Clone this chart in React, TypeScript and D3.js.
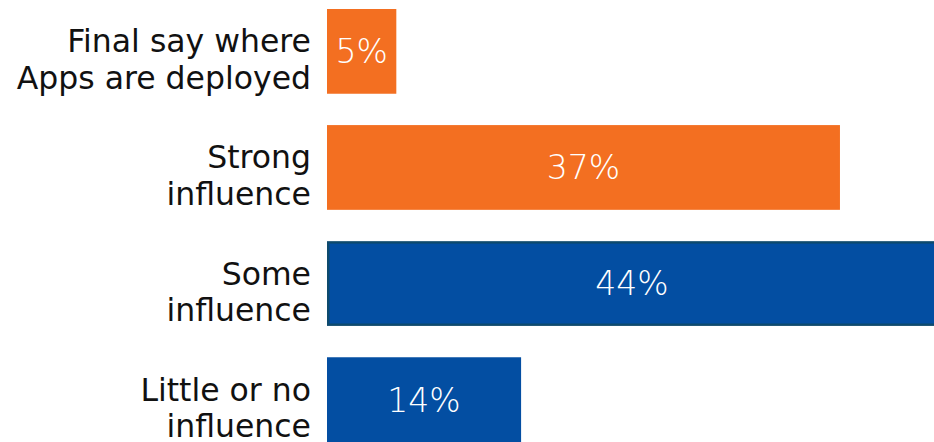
import React, { useEffect } from "react";
import * as d3 from "d3";

const categories: string[][] = [
  ["Final say where", "Apps are deployed"],
  ["Strong", "influence"],
  ["Some", "influence"],
  ["Little or no", "influence"],
];
const values: number[] = [5, 37, 44, 14];
const colors: string[] = ["#F36F21", "#F36F21", "#034EA2", "#034EA2"];
const outlined: boolean[] = [false, false, true, false];

const W = 934;
const H = 442;

export default function App() {
  useEffect(() => {
    document.body.style.margin = "0";
  }, []);

  const x = d3.scaleLinear().domain([0, 44]).range([327, 937]);
  const y = d3
    .scaleBand<number>()
    .domain(d3.range(values.length))
    .range([9, 442])
    .paddingInner(0.27)
    .paddingOuter(0);

  const bw = y.bandwidth();
  const lineGap = 36.5;

  return (
    <svg width={W} height={H} style={{ display: "block" }}>
      <rect x={0} y={0} width={W} height={H} fill="#ffffff" />
      {values.map((v, i) => {
        const y0 = y(i) as number;
        const cy = y0 + bw / 2;
        const x0 = x(0);
        const x1 = x(v);
        return (
          <g key={i}>
            <rect
              x={outlined[i] ? x0 + 1.2 : x0}
              y={outlined[i] ? y0 + 1.2 : y0}
              width={outlined[i] ? x1 - x0 - 2.4 : x1 - x0}
              height={outlined[i] ? bw - 2.4 : bw}
              fill={colors[i]}
              stroke={outlined[i] ? "#0E4A6D" : "none"}
              strokeWidth={outlined[i] ? 2.4 : 0}
            />
            <text
              x={(x0 + x1) / 2}
              y={cy}
              dy="0.36em"
              textAnchor="middle"
              fill="#ffffff"
              fontFamily="'DejaVu Sans', sans-serif"
              fontWeight={200}
              fontSize={33}
            >
              {`${v}%`}
            </text>
            <text
              x={311}
              y={cy + 1}
              textAnchor="end"
              fill="#111111"
              fontFamily="'DejaVu Sans', sans-serif"
              fontSize={31.5}
            >
              {categories[i].map((line, j) => (
                <tspan key={j} x={311} dy={j === 0 ? 0 : lineGap}>
                  {line}
                </tspan>
              ))}
            </text>
          </g>
        );
      })}
    </svg>
  );
}
